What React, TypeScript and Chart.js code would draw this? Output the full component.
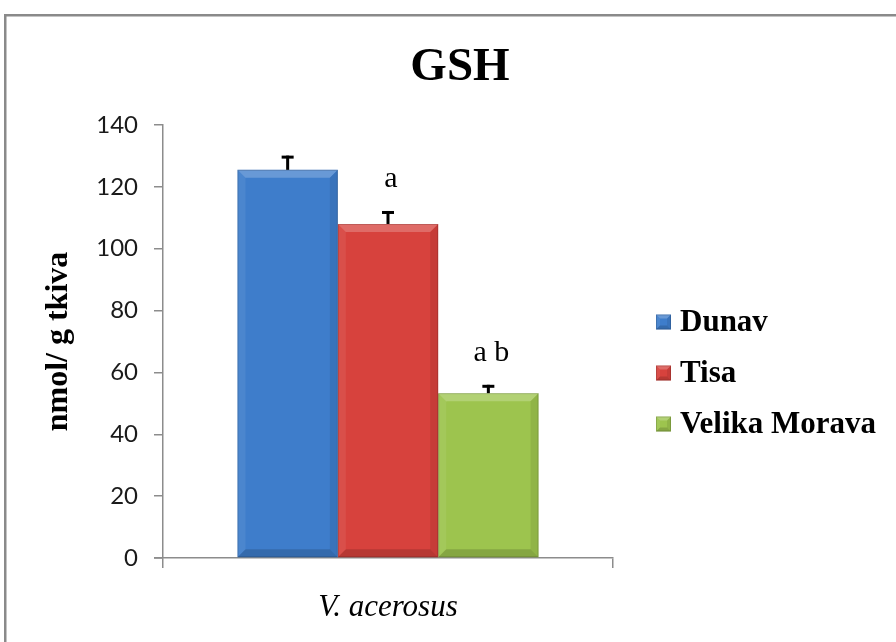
import React, { useEffect, useRef } from "react";
import { Chart, registerables } from "chart.js";

Chart.register(...registerables);

// ---- data ----
const categories = ["V. acerosus"];
const seriesNames = ["Dunav", "Tisa", "Velika Morava"];
const dunavValues = [125.5];
const tisaValues = [108];
const velikaMoravaValues = [53.3];
const dunavErrors = [4.6];
const tisaErrors = [4.2];
const velikaMoravaErrors = [2.7];
const significanceLabels = ["", "a", "a b"];
const yTickValues = [0, 20, 40, 60, 80, 100, 120, 140];
const chartTitle = "GSH";
const yAxisTitle = "nmol/ g tkiva";

const SERIF = "'Times New Roman', 'Liberation Serif', serif";
const SANS = "Lato, 'Open Sans', sans-serif";

const seriesColors = ["#3E7DCB", "#D7423D", "#9DC44E"];
const seriesValues = [dunavValues, tisaValues, velikaMoravaValues];
const seriesErrors = [dunavErrors, tisaErrors, velikaMoravaErrors];

function drawBevel(ctx: CanvasRenderingContext2D, l: number, t: number, r: number, b: number, bev: number) {
  const w = r - l;
  const h = b - t;
  const e = Math.min(bev, w / 2, h / 2);
  ctx.fillStyle = "rgba(255,255,255,0.22)";
  ctx.beginPath();
  ctx.moveTo(l, t); ctx.lineTo(r, t); ctx.lineTo(r - e, t + e); ctx.lineTo(l + e, t + e); ctx.closePath(); ctx.fill();
  ctx.fillStyle = "rgba(255,255,255,0.07)";
  ctx.beginPath();
  ctx.moveTo(l, t); ctx.lineTo(l + e, t + e); ctx.lineTo(l + e, b - e); ctx.lineTo(l, b); ctx.closePath(); ctx.fill();
  ctx.fillStyle = "rgba(0,0,0,0.08)";
  ctx.beginPath();
  ctx.moveTo(r, t); ctx.lineTo(r - e, t + e); ctx.lineTo(r - e, b - e); ctx.lineTo(r, b); ctx.closePath(); ctx.fill();
  ctx.fillStyle = "rgba(0,0,0,0.15)";
  ctx.beginPath();
  ctx.moveTo(l, b); ctx.lineTo(r, b); ctx.lineTo(r - e, b - e); ctx.lineTo(l + e, b - e); ctx.closePath(); ctx.fill();
  ctx.strokeStyle = "rgba(0,0,0,0.15)";
  ctx.lineWidth = 1;
  ctx.strokeRect(l + 0.5, t + 0.5, w - 1, h - 1);
}

const framePlugin = {
  id: "frame",
  beforeDraw(chart: any) {
    const ctx = chart.ctx;
    ctx.save();
    ctx.fillStyle = "#ffffff";
    ctx.fillRect(0, 0, chart.width, chart.height);
    ctx.strokeStyle = "#8a8a8a";
    ctx.lineWidth = 2.5;
    ctx.strokeRect(5.25, 15.25, chart.width + 20, chart.height + 20);
    ctx.restore();
  },
  afterDraw(chart: any) {
    // small extension of the x-axis line to the left of the y-axis (tick at 0)
    const ctx = chart.ctx;
    const a = chart.chartArea;
    ctx.save();
    ctx.strokeStyle = "#8c8c8c";
    ctx.lineWidth = 1.5;
    ctx.beginPath();
    ctx.moveTo(a.left - 9, a.bottom);
    ctx.lineTo(a.left, a.bottom);
    ctx.stroke();
    ctx.restore();
  },
};

const extrasPlugin = {
  id: "extras",
  afterDatasetsDraw(chart: any) {
    const ctx = chart.ctx;
    const yScale = chart.scales.y;
    ctx.save();
    chart.data.datasets.forEach((ds: any, i: number) => {
      const meta = chart.getDatasetMeta(i);
      meta.data.forEach((bar: any, j: number) => {
        const p = bar.getProps(["x", "y", "base", "width"], true);
        const l = p.x - p.width / 2;
        const r = p.x + p.width / 2;
        drawBevel(ctx, l, p.y, r, p.base, 8);
        const v = seriesValues[i][j];
        const err = seriesErrors[i][j];
        const yTop = yScale.getPixelForValue(v + err);
        ctx.fillStyle = "#000000";
        ctx.fillRect(p.x - 1.5, yTop, 3, p.y - yTop);
        ctx.fillRect(p.x - 6, yTop, 12, 3);
        const lab = significanceLabels[i];
        if (lab) {
          ctx.font = `30px ${SERIF}`;
          ctx.textAlign = "center";
          ctx.textBaseline = "alphabetic";
          ctx.fillStyle = "#000000";
          ctx.fillText(lab, p.x + 3, yTop - 24);
        }
      });
    });
    ctx.restore();
  },
  afterDraw(chart: any) {
    const ctx = chart.ctx;
    ctx.save();
    ctx.font = `bold 47px ${SERIF}`;
    ctx.textAlign = "center";
    ctx.textBaseline = "alphabetic";
    ctx.fillStyle = "#000000";
    ctx.fillText(chartTitle, 460, 80);
    chart.data.datasets.forEach((ds: any, i: number) => {
      const cy = 322 + i * 51;
      const sx = 656;
      const s = 15;
      ctx.fillStyle = ds.backgroundColor;
      ctx.fillRect(sx, cy - s / 2, s, s);
      drawBevel(ctx, sx, cy - s / 2, sx + s, cy + s / 2, 4);
      ctx.font = `bold 31px ${SERIF}`;
      ctx.textAlign = "left";
      ctx.textBaseline = "middle";
      ctx.fillStyle = "#000000";
      ctx.fillText(ds.label, 680, cy + 1);
    });
    ctx.restore();
  },
};

export default function App() {
  const ref = useRef<HTMLCanvasElement | null>(null);
  useEffect(() => {
    if (!ref.current) return;
    const chart = new Chart(ref.current, {
      type: "bar",
      data: {
        labels: categories,
        datasets: seriesNames.map((name, i) => ({
          label: name,
          data: seriesValues[i],
          backgroundColor: seriesColors[i],
          borderWidth: 0,
          categoryPercentage: 0.669,
          barPercentage: 1,
        })),
      },
      options: {
        responsive: false,
        animation: false,
        devicePixelRatio: 1,
        layout: { padding: { top: 125, right: 283, bottom: 0, left: 0 } },
        plugins: {
          legend: { display: false },
          title: { display: false },
          tooltip: { enabled: false },
        },
        scales: {
          x: {
            afterFit: (s: any) => { s.height = 84; },
            grid: { display: true, drawOnChartArea: false, tickLength: 10, color: "#8c8c8c", lineWidth: 1.5 },
            border: { display: true, color: "#8c8c8c", width: 1.5 },
            ticks: {
              padding: 21,
              color: "#000000",
              font: { family: SERIF, size: 31, style: "italic" },
            },
          },
          y: {
            min: 0,
            max: 140,
            afterFit: (s: any) => { s.width = 163; },
            afterBuildTicks: (s: any) => { s.ticks = yTickValues.map((v) => ({ value: v })); },
            grid: { display: true, drawOnChartArea: false, tickLength: 9, color: "#8c8c8c", lineWidth: 1.5 },
            border: { display: true, color: "#8c8c8c", width: 1.5 },
            ticks: {
              padding: 16,
              color: "#1a1a1a",
              font: { family: SANS, size: 24 },
            },
            title: {
              display: true,
              text: yAxisTitle,
              color: "#000000",
              font: { family: SERIF, size: 32, weight: "bold" },
              padding: { top: 40, bottom: 0 },
            },
          },
        },
      },
      plugins: [framePlugin, extrasPlugin],
    } as any);
    return () => chart.destroy();
  }, []);
  return (
    <div style={{ position: "absolute", left: 0, top: 0, width: 896, height: 642, background: "#fff" }}>
      <canvas ref={ref} width={896} height={642} style={{ display: "block" }} />
    </div>
  );
}
